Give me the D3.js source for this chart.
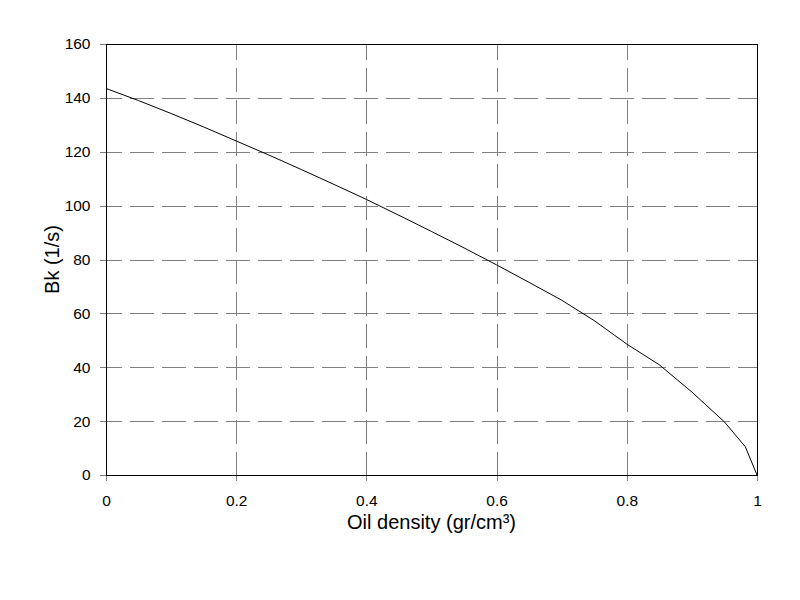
<!DOCTYPE html>
<html>
<head>
<meta charset="utf-8">
<script src="https://cdn.jsdelivr.net/npm/d3@7"></script>
<style>
  body { margin: 0; background: #fff; }
  text { font-family: "Liberation Sans", Arial, sans-serif; }
</style>
</head>
<body>
<div id="chart"></div>
<script>
// oil density (gr/cm3) vs Bk (1/s)
let density = [0, 0.05, 0.1, 0.15, 0.2, 0.25, 0.3, 0.35, 0.4, 0.45, 0.5, 0.55, 0.6, 0.65, 0.7, 0.75, 0.8, 0.85, 0.9, 0.95, 0.982, 1.0];
let bk      = [143.5, 139.0, 134.2, 129.2, 124.0, 118.8, 113.4, 107.9, 102.3, 96.4, 90.4, 84.3, 78.0, 71.5, 64.9, 57.3, 48.6, 40.9, 30.8, 19.7, 10.5, 0];
let xTicks = [0, 0.2, 0.4, 0.6, 0.8, 1];
let yTicks = [0, 20, 40, 60, 80, 100, 120, 140, 160];

class DensityChart {

  constructor () {
    this.width = 800;
    this.height = 600;
    this.left = 106;
    this.right = 757;
    this.top = 44;
    this.bottom = 475;

    this.svg = d3.select("#chart").append("svg")
        .attr("width", this.width)
        .attr("height", this.height);
  };

  draw () {
    let data = density.map((d, i) => ({x: d, y: bk[i]}));

    let xScale = d3.scaleLinear()
        .domain([0, 1])
        .range([this.left, this.right]);
    let yScale = d3.scaleLinear()
        .domain([0, 160])
        .range([this.bottom, this.top]);

    // dashed grid, only the inner lines
    let grid = this.svg.append("g")
        .attr("stroke", "#808080")
        .attr("stroke-width", 1)
        .attr("stroke-dasharray", "24,8")
        .attr("stroke-dashoffset", 8)
        .attr("shape-rendering", "crispEdges");
    grid.selectAll(".hgrid")
        .data(yTicks.slice(1, -1))
        .enter()
        .append("line")
        .attr("x1", this.left)
        .attr("x2", this.right)
        .attr("y1", d => Math.round(yScale(d)) + 0.5)
        .attr("y2", d => Math.round(yScale(d)) + 0.5);
    grid.selectAll(".vgrid")
        .data(xTicks.slice(1, -1))
        .enter()
        .append("line")
        .attr("y1", this.top)
        .attr("y2", this.bottom)
        .attr("x1", d => Math.round(xScale(d)) + 0.5)
        .attr("x2", d => Math.round(xScale(d)) + 0.5);

    let xAxis = d3.axisBottom(xScale)
        .tickValues(xTicks)
        .tickSize(6)
        .tickSizeOuter(0)
        .tickFormat(d3.format("~g"));
    let yAxis = d3.axisLeft(yScale)
        .tickValues(yTicks)
        .tickSize(6)
        .tickSizeOuter(0);

    let gx = this.svg.append("g")
        .attr("transform", "translate(0," + this.bottom + ")")
        .call(xAxis);
    let gy = this.svg.append("g")
        .attr("transform", "translate(" + this.left + ",0)")
        .call(yAxis);

    [gx, gy].forEach(g => {
      g.select(".domain").remove();
      g.selectAll("line").attr("stroke", "#808080").attr("shape-rendering", "crispEdges");
      g.selectAll("text")
          .attr("fill", "#000")
          .style("font-size", "15.5px")
          .style("font-family", "'Liberation Sans', Arial, sans-serif");
    });
    gx.selectAll("text").attr("y", 20);
    gy.selectAll("text").attr("x", -15.5);

    // plot frame
    this.svg.append("rect")
        .attr("x", this.left + 0.5)
        .attr("y", this.top + 0.5)
        .attr("width", this.right - this.left)
        .attr("height", this.bottom - this.top)
        .attr("fill", "none")
        .attr("stroke", "#000")
        .attr("stroke-width", 1)
        .attr("shape-rendering", "crispEdges");

    let line = d3.line()
        .x(d => xScale(d.x))
        .y(d => yScale(d.y));

    this.svg.append("path")
        .datum(data)
        .attr("d", line)
        .attr("fill", "none")
        .attr("stroke", "#000")
        .attr("stroke-width", 1);

    this.svg.append("text")
        .attr("x", (this.left + this.right) / 2)
        .attr("y", 529)
        .attr("text-anchor", "middle")
        .style("font-size", "20px")
        .text("Oil density (gr/cm³)");

    this.svg.append("text")
        .attr("transform", "translate(59," + (this.top + this.bottom) / 2 + ") rotate(-90)")
        .attr("text-anchor", "middle")
        .style("font-size", "20px")
        .text("Bk (1/s)");
  };
};

let chart = new DensityChart();
chart.draw();
</script>
</body>
</html>
